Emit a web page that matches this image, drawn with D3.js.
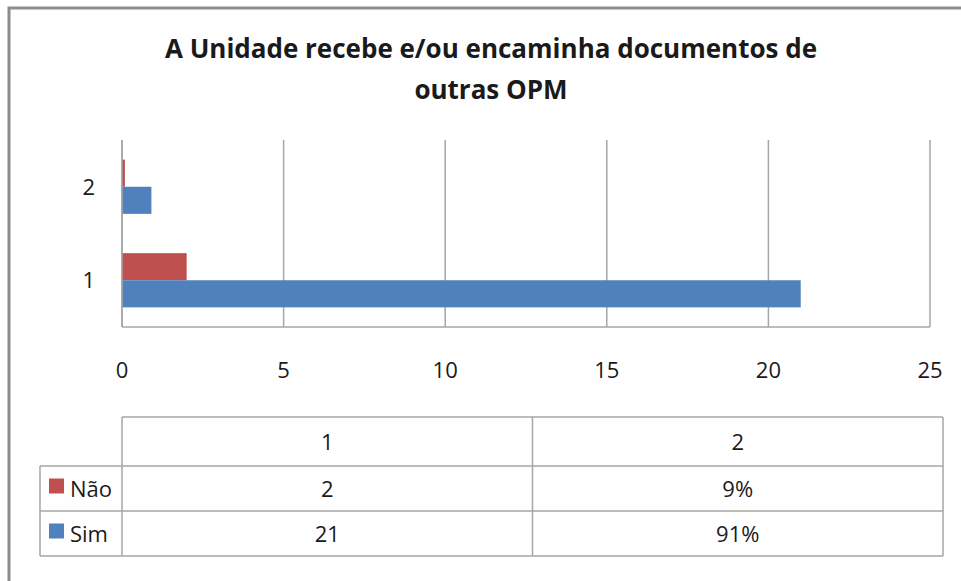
<!DOCTYPE html>
<html>
<head>
<meta charset="utf-8">
<script src="https://cdn.jsdelivr.net/npm/d3@7"></script>
<style>
body{margin:0;background:#fff;}
text{font-family:"Open Sans",sans-serif;fill:#1a1a1a;}
</style>
</head>
<body>
<svg id="chart" width="961" height="581"></svg>
<script>
//dados
var categories = ["1", "2"];
var seriesNames = ["Não", "Sim"];
var naoValues = [2, 0.09];
var simValues = [21, 0.91];
var naoLabels = ["2", "9%"];
var simLabels = ["21", "91%"];
var xTicks = [0, 5, 10, 15, 20, 25];
var colors = {"Não": "#C0504D", "Sim": "#4F81BD"};

var svg = d3.select("#chart");

//borda
svg.append("path")
	.attr("d", "M9,581 L9,8 L961,8")
	.attr("fill", "none")
	.attr("stroke", "#8c8c8c")
	.attr("stroke-width", 3);

//titulo
var title = svg.append("text")
	.attr("text-anchor", "middle")
	.style("font-size", "26px")
	.style("font-weight", "700");
title.append("tspan").attr("x", 491).attr("y", 58).text("A Unidade recebe e/ou encaminha documentos de");
title.append("tspan").attr("x", 491).attr("y", 99).text("outras OPM");

//area
var plot = {left:122, right:930, top:140, bottom:327};

var x = d3.scaleLinear().domain([0, 25]).range([plot.left, plot.right]);
var y = d3.scaleBand().domain(categories.slice().reverse()).range([plot.top, plot.bottom]).paddingInner(0.42).paddingOuter(0.21);
var ySub = d3.scaleBand().domain(seriesNames).range([0, y.bandwidth()]);

//grade
svg.append("g").selectAll("line")
	.data(xTicks)
	.enter().append("line")
	.attr("x1", function(d){ return x(d); })
	.attr("x2", function(d){ return x(d); })
	.attr("y1", plot.top)
	.attr("y2", plot.bottom)
	.attr("stroke", "#a6a6a6")
	.attr("stroke-width", 1.5);

var dataset = [];
categories.forEach(function(c, i){
	dataset.push({cat:c, serie:"Não", v:naoValues[i]});
	dataset.push({cat:c, serie:"Sim", v:simValues[i]});
});

svg.append("g").selectAll("rect")
	.data(dataset)
	.enter().append("rect")
	.attr("x", x(0))
	.attr("y", function(d){ return y(d.cat) + ySub(d.serie); })
	.attr("width", function(d){ return x(d.v) - x(0); })
	.attr("height", ySub.bandwidth())
	.attr("fill", function(d){ return colors[d.serie]; });

//eixo base
svg.append("line")
	.attr("x1", plot.left).attr("x2", plot.right)
	.attr("y1", plot.bottom).attr("y2", plot.bottom)
	.attr("stroke", "#a6a6a6").attr("stroke-width", 1.5);
svg.append("line")
	.attr("x1", plot.left).attr("x2", plot.left)
	.attr("y1", plot.top).attr("y2", plot.bottom)
	.attr("stroke", "#a6a6a6").attr("stroke-width", 1.5);

//rotulos eixo x
svg.append("g").selectAll("text")
	.data(xTicks)
	.enter().append("text")
	.attr("x", function(d){ return x(d); })
	.attr("y", 378)
	.attr("text-anchor", "middle")
	.style("font-size", "22px")
	.text(function(d){ return d; });

//rotulos eixo y
svg.append("g").selectAll("text")
	.data(categories)
	.enter().append("text")
	.attr("x", 95)
	.attr("y", function(d){ return y(d) + y.bandwidth()/2 + 8; })
	.attr("text-anchor", "end")
	.style("font-size", "22px")
	.text(function(d){ return d; });

//tabela
var table = {left:40, keyRight:122, right:943, rows:[417, 466, 511, 556]};
var colX = d3.scaleBand().domain(categories).range([table.keyRight, table.right]);
var g = svg.append("g").attr("stroke", "#a6a6a6").attr("stroke-width", 1.5);
g.append("line").attr("x1", table.keyRight).attr("x2", table.right).attr("y1", table.rows[0]).attr("y2", table.rows[0]);
[1, 2, 3].forEach(function(r){
	g.append("line").attr("x1", table.left).attr("x2", table.right).attr("y1", table.rows[r]).attr("y2", table.rows[r]);
});
g.append("line").attr("x1", table.left).attr("x2", table.left).attr("y1", table.rows[1]).attr("y2", table.rows[3]);
categories.forEach(function(c){
	g.append("line").attr("x1", colX(c)).attr("x2", colX(c)).attr("y1", table.rows[0]).attr("y2", table.rows[3]);
});
g.append("line").attr("x1", table.right).attr("x2", table.right).attr("y1", table.rows[0]).attr("y2", table.rows[3]);

svg.append("g").selectAll("text")
	.data(categories)
	.enter().append("text")
	.attr("x", function(d){ return colX(d) + colX.bandwidth()/2; })
	.attr("y", (table.rows[0] + table.rows[1])/2 + 8)
	.attr("text-anchor", "middle")
	.style("font-size", "22px")
	.text(function(d){ return d; });

var rowLabels = [naoLabels, simLabels];
seriesNames.forEach(function(s, r){
	var cy = (table.rows[r+1] + table.rows[r+2])/2;
	svg.append("rect")
		.attr("x", 49).attr("y", cy - 10)
		.attr("width", 15).attr("height", 15)
		.attr("fill", colors[s]);
	svg.append("text")
		.attr("x", 70).attr("y", cy + 8)
		.style("font-size", "22px")
		.text(s);
	svg.append("g").selectAll("text")
		.data(rowLabels[r])
		.enter().append("text")
		.attr("x", function(d, i){ return colX(categories[i]) + colX.bandwidth()/2; })
		.attr("y", cy + 8)
		.attr("text-anchor", "middle")
		.style("font-size", "22px")
		.text(function(d){ return d; });
});
</script>
</body>
</html>
